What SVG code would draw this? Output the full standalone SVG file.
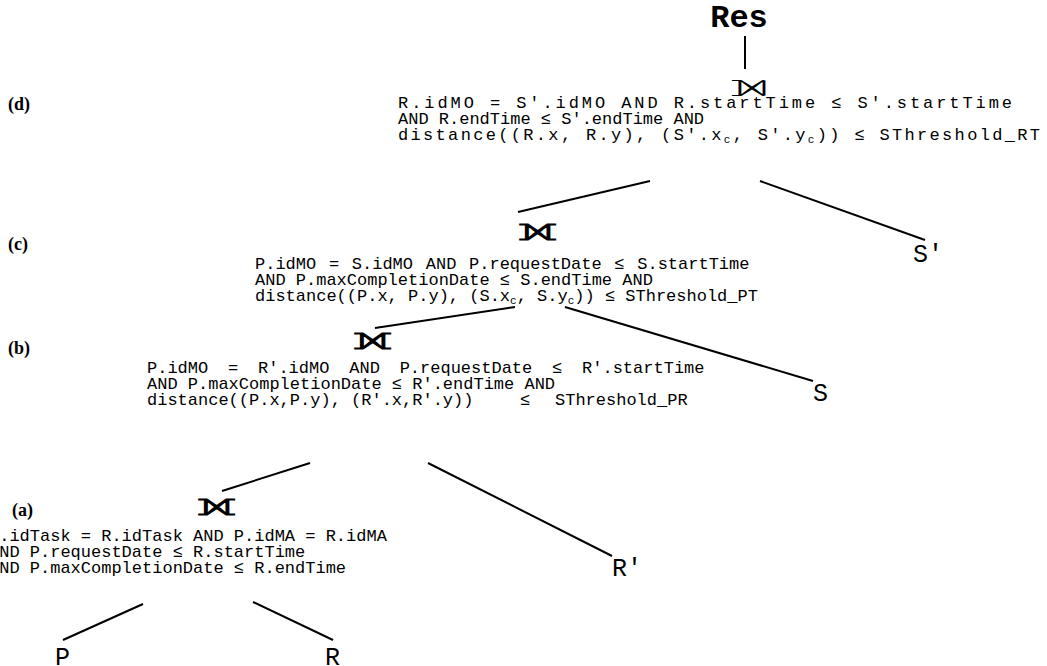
<svg xmlns="http://www.w3.org/2000/svg" width="1047" height="666" viewBox="0 0 1047 666">
<style>
.t{font-family:"Liberation Mono","DejaVu Sans Mono",monospace;font-size:17px;fill:#000}
.lbl{font-family:"Liberation Serif",serif;font-weight:bold;font-size:18px;fill:#000}
.rel{font-family:"Liberation Mono",monospace;font-size:25px;fill:#000}
.j{font-family:"DejaVu Sans",sans-serif;font-size:26px;fill:#000;text-anchor:middle}
.jb{font-weight:bold}
.sub{font-size:11px}
.c line{stroke:#000;stroke-width:2}
</style>
<rect width="1047" height="666" fill="#fff"/>
<g id="res"><text x="739" y="27" style="font-family:'Liberation Mono',monospace;font-weight:bold;font-size:32px" text-anchor="middle">Res</text></g>
<g class="c" id="connectors">
<line x1="745" y1="36" x2="745" y2="69"/>
<line x1="518" y1="212" x2="650" y2="181"/>
<line x1="760" y1="181" x2="925" y2="240"/>
<line x1="375" y1="328" x2="515" y2="307"/>
<line x1="565" y1="307" x2="813" y2="381"/>
<line x1="222" y1="491" x2="310" y2="463"/>
<line x1="428" y1="463" x2="612" y2="556"/>
<line x1="143" y1="604" x2="63" y2="640"/>
<line x1="253" y1="602" x2="333" y2="640"/>
</g>
<g id="join-d">
<text class="j" transform="translate(749,96) scale(1.9,1.25)">⟕</text>
<text class="lbl" x="8" y="110">(d)</text>
<text class="t" x="398" y="108" textLength="614" lengthAdjust="spacing">R.idMO = S'.idMO AND R.startTime ≤ S'.startTime</text>
<text class="t" x="398" y="124">AND R.endTime ≤ S'.endTime AND</text>
<text class="t" x="398" y="140" textLength="642" lengthAdjust="spacing">distance((R.x, R.y), (S'.x<tspan class="sub" dy="3">c</tspan><tspan dy="-3">, S'.y</tspan><tspan class="sub" dy="3">c</tspan><tspan dy="-3">)) ≤ SThreshold_RT</tspan></text>
</g>
<g id="rel-s2"><text class="rel" x="913" y="262">S'</text></g>
<g id="join-c">
<text class="j jb" transform="translate(537,240) scale(1.7,1.25)">⟗</text>
<text class="lbl" x="8" y="250">(c)</text>
<text class="t" x="255" y="269" word-spacing="2.5">P.idMO = S.idMO AND P.requestDate ≤ S.startTime</text>
<text class="t" x="255" y="285">AND P.maxCompletionDate ≤ S.endTime AND</text>
<text class="t" x="255" y="301">distance((P.x, P.y), (S.x<tspan class="sub" dy="3">c</tspan><tspan dy="-3">, S.y</tspan><tspan class="sub" dy="3">c</tspan><tspan dy="-3">)) ≤ SThreshold_PT</tspan></text>
</g>
<g id="rel-s"><text class="rel" x="813" y="401">S</text></g>
<g id="join-b">
<text class="j jb" transform="translate(372,349) scale(1.7,1.25)">⟗</text>
<text class="lbl" x="8" y="354">(b)</text>
<text class="t" x="147" y="373" word-spacing="9.6">P.idMO = R'.idMO AND P.requestDate ≤ R'.startTime</text>
<text class="t" x="147" y="389">AND P.maxCompletionDate ≤ R'.endTime AND</text>
<text class="t" x="147" y="405">distance((P.x,P.y), (R'.x,R'.y))<tspan x="520">≤</tspan><tspan x="555">SThreshold_PR</tspan></text>
</g>
<g id="rel-r2"><text class="rel" x="612" y="576">R'</text></g>
<g id="join-a">
<text class="j jb" transform="translate(216,515) scale(1.7,1.25)">⟗</text>
<text class="lbl" x="12" y="516">(a)</text>
<text class="t" x="-11" y="541">P.idTask = R.idTask AND P.idMA = R.idMA</text>
<text class="t" x="-11" y="557">AND P.requestDate ≤ R.startTime</text>
<text class="t" x="-11" y="573">AND P.maxCompletionDate ≤ R.endTime</text>
</g>
<g id="rel-p"><text class="rel" x="55" y="665">P</text></g>
<g id="rel-r"><text class="rel" x="325" y="665">R</text></g>
</svg>
